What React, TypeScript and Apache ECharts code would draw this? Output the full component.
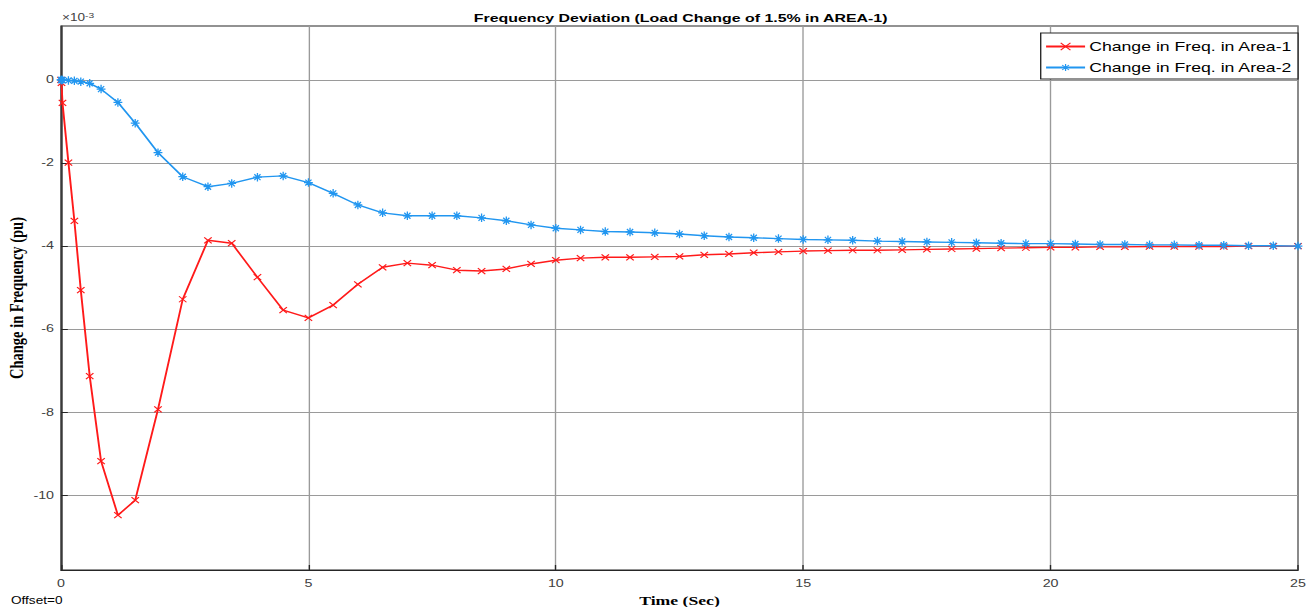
import React, { useEffect, useRef } from "react";
import * as echarts from "echarts";

const timeSec = [
  0, 0.01, 0.03, 0.15, 0.27, 0.4, 0.58, 0.81, 1.15, 1.5, 1.96, 2.46, 2.97, 3.45, 3.97, 4.49, 5.0,
  5.5, 6, 6.5, 7, 7.5, 8, 8.5, 9, 9.5, 10,
  10.5, 11, 11.5, 12, 12.5, 13, 13.5, 14, 14.5, 15,
  15.5, 16, 16.5, 17, 17.5, 18, 18.5, 19, 19.5, 20,
  20.5, 21, 21.5, 22, 22.5, 23, 23.5, 24, 24.5, 25,
];

// values in units of 1e-3 pu
const area1 = [
  0, -0.07, -0.55, -1.99, -3.39, -5.06, -7.13, -9.18, -10.48, -10.12, -7.93, -5.28, -3.86, -3.93, -4.75, -5.54, -5.73,
  -5.42, -4.92, -4.51, -4.41, -4.46, -4.58, -4.6, -4.55, -4.43, -4.34,
  -4.29, -4.27, -4.27, -4.26, -4.25, -4.21, -4.19, -4.16, -4.14, -4.12,
  -4.11, -4.1, -4.1, -4.09, -4.08, -4.07, -4.06, -4.05, -4.04, -4.03,
  -4.03, -4.02, -4.02, -4.01, -4.01, -4.01, -4.01, -4.0, -4.0, -4.0,
];

const area2 = [
  0, 0, 0, -0.01, -0.02, -0.04, -0.08, -0.22, -0.54, -1.04, -1.75, -2.33, -2.57, -2.49, -2.34, -2.31, -2.47,
  -2.73, -3.01, -3.2, -3.27, -3.27, -3.27, -3.32, -3.39, -3.49, -3.57,
  -3.61, -3.65, -3.66, -3.68, -3.71, -3.75, -3.78, -3.8, -3.82, -3.84,
  -3.85, -3.86, -3.88, -3.89, -3.9, -3.91, -3.92, -3.93, -3.94, -3.94,
  -3.95, -3.96, -3.96, -3.97, -3.97, -3.98, -3.98, -3.99, -3.99, -4.0,
];

const yTicks = [-10, -8, -6, -4, -2, 0];
const seriesNames = ["Change in Freq. in Area-1", "Change in Freq. in Area-2"];
const titleText = "Frequency Deviation (Load Change of 1.5% in AREA-1)";

const crossPath = "path://M0,0 L10,10 M10,0 L0,10";
const starPath = "path://M5,0 L5,10 M0,5 L10,5 M1.5,1.5 L8.5,8.5 M8.5,1.5 L1.5,8.5";

// The reference picture is stretched horizontally; draw narrower and stretch.
const PAGE_W = 1315;
const PAGE_H = 607;
const STRETCH = 1.36;
const W = Math.round(PAGE_W / STRETCH);
const S = PAGE_W / W;

export default function App() {
  const ref = useRef<HTMLDivElement>(null);
  useEffect(() => {
    const chart = echarts.init(ref.current!, null, { renderer: "svg" });
    const sans = "Arial, 'Liberation Sans', Helvetica, sans-serif";
    const serif = "'Times New Roman', 'Liberation Serif', serif";
    const px = (v: number) => v / S;
    chart.setOption({
      animation: false,
      backgroundColor: "#ffffff",
      title: {
        text: titleText,
        left: px(467),
        top: 7,
        textStyle: { fontSize: 11.7, fontWeight: "bold", fontFamily: sans, color: "#000" },
      },
      grid: {
        left: px(61),
        right: px(17),
        top: 26,
        bottom: 37,
        outerBoundsMode: "none",
        containLabel: false,
        show: true,
        borderColor: "#262626",
        borderWidth: 1,
        backgroundColor: "#fff",
      },
      legend: {
        right: px(17),
        top: 33,
        orient: "vertical",
        backgroundColor: "#fff",
        borderColor: "#262626",
        borderWidth: 1,
        borderRadius: 0,
        padding: [7, 4, 5, px(4)],
        itemGap: 8,
        itemWidth: px(39),
        itemHeight: 9,
        itemStyle: { borderWidth: 0.9 },
        textStyle: { fontSize: 13, fontFamily: sans, color: "#000", padding: [0, 0, 0, -2] },
        data: seriesNames,
      },
      xAxis: {
        type: "value",
        min: 0,
        max: 25,
        interval: 5,
        name: "Time (Sec)",
        nameLocation: "middle",
        nameGap: 24,
        nameMoveOverlap: false,
        nameTextStyle: { fontFamily: serif, fontWeight: "bold", fontSize: 13, color: "#000" },
        axisLine: { show: true, onZero: false, lineStyle: { color: "#262626", width: 1 } },
        axisTick: { show: true, inside: true, length: 5, lineStyle: { color: "#262626" } },
        axisLabel: { fontSize: 10.5, fontFamily: sans, color: "#404040", margin: 8 },
        splitLine: { show: true, lineStyle: { color: "#9a9a9a", width: 1 } },
      },
      yAxis: {
        type: "value",
        min: -11.8,
        max: 1.3,
        name: "Change in Frequency (pu)",
        nameLocation: "middle",
        nameGap: px(34),
        nameMoveOverlap: false,
        nameRotate: 90,
        nameTextStyle: { fontFamily: serif, fontWeight: "bold", fontSize: 14.5, color: "#000" },
        axisLine: { show: true, onZero: false, lineStyle: { color: "#262626", width: 1 } },
        axisTick: {
          show: true,
          inside: true,
          length: 5,
          customValues: yTicks,
          lineStyle: { color: "#262626" },
        },
        axisLabel: {
          fontSize: 10.5,
          fontFamily: sans,
          color: "#404040",
          margin: px(7),
          customValues: yTicks,
        },
        splitLine: { show: true, lineStyle: { color: "#9a9a9a", width: 1 } },
      },
      graphic: [
        {
          type: "text",
          left: px(62),
          top: 11,
          style: {
            text: "{a|×10}{b|-3}",
            rich: {
              a: { fontSize: 10, fontFamily: sans, fill: "#404040" },
              b: { fontSize: 7.5, fontFamily: sans, fill: "#404040", verticalAlign: "top", padding: [0, 0, 6, 0] },
            },
          },
        },
        {
          type: "text",
          left: px(11),
          top: 596,
          style: { text: "Offset=0", fontSize: 10, fontFamily: sans, fill: "#000" },
        },
      ],
      series: [
        {
          name: seriesNames[0],
          type: "line",
          data: timeSec.map((t, i) => [t, area1[i]]),
          symbol: crossPath,
          symbolSize: [5.5, 6],
          showAllSymbol: true,
          lineStyle: { color: "#ff1a1a", width: 1.4 },
          itemStyle: { color: "#ff1a1a", borderColor: "#ff1a1a", borderWidth: 1 },
          z: 3,
        },
        {
          name: seriesNames[1],
          type: "line",
          data: timeSec.map((t, i) => [t, area2[i]]),
          symbol: starPath,
          symbolSize: [6.5, 8.5],
          showAllSymbol: true,
          lineStyle: { color: "#2196f0", width: 1.4 },
          itemStyle: { color: "#2196f0", borderColor: "#2196f0", borderWidth: 1.1 },
          z: 4,
        },
      ],
    });
    return () => chart.dispose();
  }, []);
  return (
    <div
      style={{
        position: "fixed",
        left: 0,
        top: 0,
        width: PAGE_W,
        height: PAGE_H,
        overflow: "hidden",
        background: "#fff",
      }}
    >
      <div
        ref={ref}
        style={{
          width: W,
          height: PAGE_H,
          transform: `scaleX(${S})`,
          transformOrigin: "0 0",
          background: "#fff",
        }}
      />
    </div>
  );
}
